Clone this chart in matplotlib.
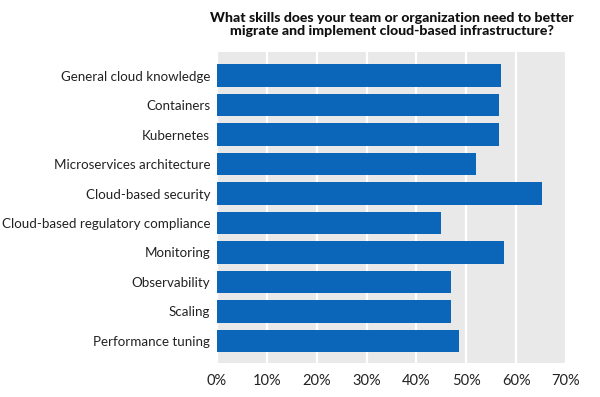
import matplotlib
matplotlib.use("Agg")
import matplotlib.pyplot as plt
from matplotlib.ticker import FuncFormatter

# Survey answers (share of respondents)
skills = [
    "General cloud knowledge",
    "Containers",
    "Kubernetes",
    "Microservices architecture",
    "Cloud-based security",
    "Cloud-based regulatory compliance",
    "Monitoring",
    "Observability",
    "Scaling",
    "Performance tuning",
]
share = [57.0, 56.5, 56.5, 52.0, 65.1, 45.0, 57.6, 46.9, 46.9, 48.6]
x_ticks = [0, 10, 20, 30, 40, 50, 60, 70]

plt.rcParams["font.family"] = ["Lato", "DejaVu Sans"]

fig = plt.figure(figsize=(6.0, 3.97), dpi=100)
ax = fig.add_axes([0.3617, 0.0856, 0.5817, 0.7834])
ax.set_facecolor("#e9e9e9")

ypos = list(range(len(skills)))
ax.barh(ypos, share, height=0.76, color="#0b66ba", zorder=3)

ax.set_xlim(0, 70)
ax.set_ylim(len(skills) - 0.25, -0.8)
ax.set_xticks(x_ticks)
ax.xaxis.set_major_formatter(FuncFormatter(lambda v, p: f"{v:.0f}%"))
ax.set_yticks(ypos)
ax.set_yticklabels(skills)
ax.grid(axis="x", color="white", linewidth=1.6, zorder=1)
ax.set_axisbelow(True)

for s in ax.spines.values():
    s.set_visible(False)
ax.tick_params(axis="y", length=0, labelsize=9.6, colors="#222222", pad=5)
ax.tick_params(axis="x", length=0, labelsize=10.5, colors="#222222", pad=8)

fig.text(0.653, 0.97, "What skills does your team or organization need to better\n"
         "migrate and implement cloud-based infrastructure?",
         ha="center", va="top", fontsize=10.2, fontweight="black",
         color="#111111", linespacing=1.15)

fig.savefig("out.png", dpi=100, facecolor="white")
